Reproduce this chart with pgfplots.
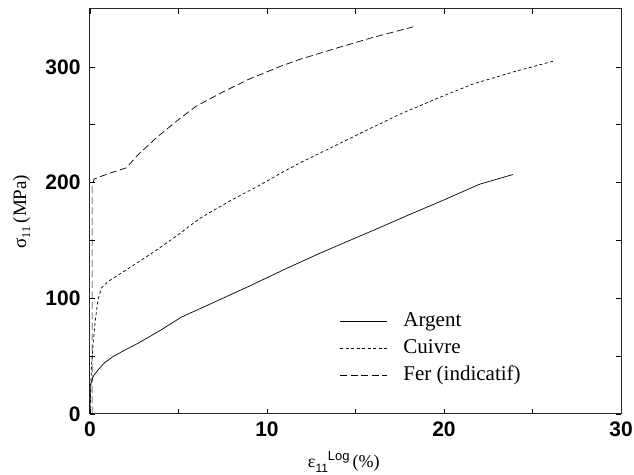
\documentclass[border=0pt]{standalone}
\usepackage{pgfplots}
\pgfplotsset{compat=1.18}
\usepackage{fontspec}
\setmainfont{Liberation Serif}
\setsansfont{Liberation Sans}

\begin{document}
\begin{tikzpicture}
\begin{axis}[
  name=ax,
  scale only axis, width=531pt, height=405pt,
  xmin=0, xmax=30, ymin=0, ymax=350,
  axis line style={line width=1pt, black!85},
  xtick={0,5,...,30}, xticklabels={0,,10,,20,,30},
  ytick={0,50,...,300}, yticklabels={0,,100,,200,,300},
  tick align=inside, major tick length=5pt,
  tick style={line width=0.6pt, black},
  /pgf/number format/assume math mode=true,
  ticklabel style={font=\fontsize{21}{21}\sffamily\bfseries},
  xticklabel style={yshift=-4pt},
  yticklabel style={xshift=-6pt},
  xlabel={ε\raisebox{-5pt}{\fontsize{12}{12}\sffamily 11}\raisebox{7pt}{\fontsize{13}{13}\sffamily Log}\,(\%)},
  xlabel style={at={(axis description cs:0.478,-0.119)}, anchor=center, font=\fontsize{18}{18}\selectfont},
  ylabel={σ\raisebox{-4pt}{\fontsize{12}{12}\selectfont 11}\,(MPa)},
  ylabel style={at={(axis description cs:-0.129,0.5)}, anchor=center, font=\fontsize{19}{19}\selectfont},
  legend style={draw=none, fill=none, at={(axis cs:14.1,56.5)}, anchor=west, inner sep=0pt, row sep=7pt,
    font=\fontsize{21}{21}\selectfont,
    nodes={inner sep=0pt, text height=15pt, text depth=5pt},
    /tikz/every odd column/.append style={column sep=16pt}},
  legend cell align=left,
  legend image code/.code={\draw[#1] (0pt,0pt) -- (47pt,0pt);},
]
\addplot[black, line width=0.7pt] table {
0 0
0.02 25
0.2 33
0.45 38
0.8 44
1.3 49.6
2 55.5
2.7 61
4 72.5
5.16 83.7
7 96.5
9 110.5
11.2 126.5
13 139
16.2 160
18 172
20 185
22 198.5
23.9 207
};
\addlegendentry{Argent}
\addplot[black, line width=0.7pt, dash pattern=on 3pt off 2.5pt] table {
0 0
0.08 40
0.2 65
0.3 81
0.45 98.6
0.64 108.8
1.02 114.5
1.77 121.8
2.7 131
3.65 140.5
4.9 154
6.2 169
8 185
9.5 197
11 210
11.86 217
14 233
16 248
17.5 259
19.5 272
21.6 285
24 296
26.2 305
};
\addlegendentry{Cuivre}
\addplot[black, line width=0.7pt, dash pattern=on 7pt off 3.5pt] table {
0.12 0
0.12 196
0.23 203
1 207.5
2.05 212.7
2.71 224
3.75 238.7
4.88 253
6 266
7.42 277.6
8.93 289
10.8 300.7
11.86 306.5
14 316.5
16 325.5
18.27 334.6
};
\addlegendentry{Fer (indicatif)}
\end{axis}
\pgfresetboundingbox
\useasboundingbox ([xshift=-90pt,yshift=-61pt]ax.south west) rectangle ([xshift=13pt,yshift=9pt]ax.north east);
\end{tikzpicture}
\end{document}
